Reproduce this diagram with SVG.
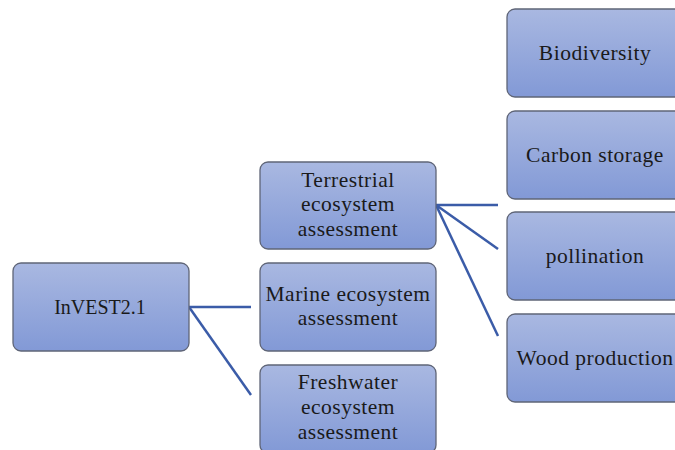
<svg xmlns="http://www.w3.org/2000/svg" width="675" height="450" viewBox="0 0 675 450">
<defs>
<linearGradient id="g" x1="0" y1="0" x2="0" y2="1">
<stop offset="0" stop-color="#A9B8E1"/>
<stop offset="1" stop-color="#8299D6"/>
</linearGradient>
<style>
.box{fill:url(#g);stroke:#5F6577;stroke-width:1.3}
.t{font-family:"Liberation Serif","Times New Roman",serif;font-size:21.5px;letter-spacing:0.5px;fill:#1a1a1a;text-anchor:middle}
.n{font-size:20px;letter-spacing:0px}
.c{stroke:#3B5CA8;stroke-width:2.5;fill:none}
</style>
</defs>
<rect width="675" height="450" fill="#ffffff"/>
<g id="connectors">
<line class="c" x1="189" y1="307" x2="251" y2="307"/>
<line class="c" x1="189" y1="307" x2="251" y2="395"/>
<line class="c" x1="436" y1="205" x2="498" y2="205"/>
<line class="c" x1="436" y1="205" x2="498" y2="249"/>
<line class="c" x1="436" y1="205" x2="498" y2="336"/>
</g>
<g id="invest">
<rect class="box" x="13" y="263" width="176" height="88" rx="8"/>
<text class="t n" x="100" y="314">InVEST2.1</text>
</g>
<g id="terrestrial">
<rect class="box" x="260" y="162" width="176" height="87" rx="8"/>
<text class="t" x="348" y="187">Terrestrial</text>
<text class="t" x="348" y="211">ecosystem</text>
<text class="t" x="348" y="236">assessment</text>
</g>
<g id="marine">
<rect class="box" x="260" y="263" width="176" height="88" rx="8"/>
<text class="t" x="348" y="301">Marine ecosystem</text>
<text class="t" x="348" y="325">assessment</text>
</g>
<g id="freshwater">
<rect class="box" x="260" y="365" width="176" height="88" rx="8"/>
<text class="t" x="348" y="389">Freshwater</text>
<text class="t" x="348" y="414">ecosystem</text>
<text class="t" x="348" y="439">assessment</text>
</g>
<g id="biodiversity">
<rect class="box" x="507" y="9" width="176" height="88" rx="8"/>
<text class="t" x="595" y="60">Biodiversity</text>
</g>
<g id="carbon">
<rect class="box" x="507" y="111" width="176" height="88" rx="8"/>
<text class="t" x="595" y="162">Carbon storage</text>
</g>
<g id="pollination">
<rect class="box" x="507" y="212" width="176" height="88" rx="8"/>
<text class="t" x="595" y="263">pollination</text>
</g>
<g id="wood">
<rect class="box" x="507" y="314" width="176" height="88" rx="8"/>
<text class="t" x="595" y="365">Wood production</text>
</g>
</svg>
